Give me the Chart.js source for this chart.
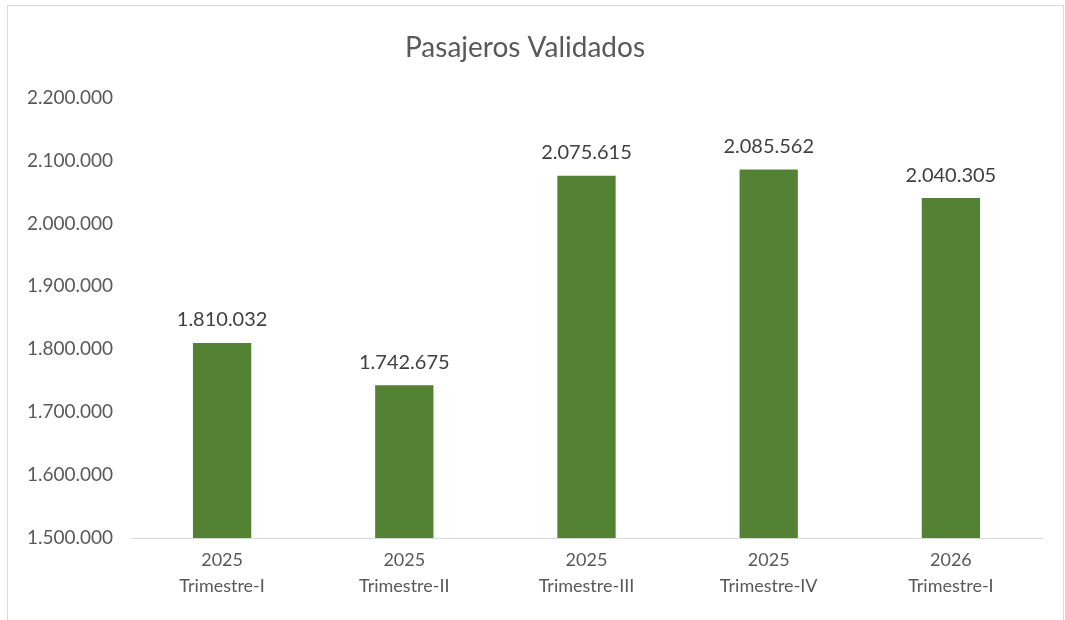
<!DOCTYPE html>
<html>
<head>
<meta charset="utf-8">
<script src="https://cdn.jsdelivr.net/npm/chart.js@4"></script>
<style>
  body { margin: 0; background: #fff; }
  #marco { position: absolute; left: 7px; top: 5px; width: 1055px; height: 614px; border: 1px solid #d9d9d9; }
</style>
</head>
<body>
<div id="marco"><canvas id="barChart" width="1055" height="614"></canvas></div>
<script>
const categorias = [['2025', 'Trimestre-I'], ['2025', 'Trimestre-II'], ['2025', 'Trimestre-III'], ['2025', 'Trimestre-IV'], ['2026', 'Trimestre-I']];
const pasajeros = [1810032, 1742675, 2075615, 2085562, 2040305];
const ejeMin = 1500000;
const ejeMax = 2200000;
const ejePaso = 100000;

function formato(v) {
  return String(Math.round(v)).replace(/\B(?=(\d{3})+(?!\d))/g, '.');
}

// etiquetas encima de cada barra
const etiquetas = {
  id: 'etiquetas',
  afterDatasetsDraw(chart) {
    const ctx = chart.ctx;
    const meta = chart.getDatasetMeta(0);
    ctx.save();
    ctx.font = '20px Lato';
    ctx.fillStyle = '#404040';
    ctx.textAlign = 'center';
    ctx.textBaseline = 'middle';
    meta.data.forEach((bar, i) => {
      ctx.fillText(formato(pasajeros[i]), bar.x, bar.y - 23);
    });
    ctx.restore();
  }
};

grafico_barras()

function grafico_barras(){
  let ctx = document.getElementById('barChart').getContext('2d');
  let barChart = new Chart(ctx, {
    type: 'bar',
    data: {
      labels: categorias,
      datasets: [{
        label: 'Pasajeros Validados',
        data: pasajeros,
        backgroundColor: '#548235',
        categoryPercentage: 1,
        barPercentage: 0.32
      }]
    },
    options: {
      responsive: false,
      animation: false,
      layout: { padding: { left: 0, right: 21, top: 0, bottom: 0 } },
      plugins: {
        legend: { display: false },
        tooltip: { enabled: false },
        title: {
          display: true,
          text: 'Pasajeros Validados',
          color: '#595959',
          font: { family: 'Lato', size: 28, weight: 'normal' },
          padding: { top: 25, bottom: 33 }
        }
      },
      scales: {
        x: {
          grid: { display: false, drawTicks: false },
          border: { color: '#d9d9d9', width: 1 },
          ticks: { color: '#595959', font: { family: 'Lato', size: 18, lineHeight: 1.4 }, padding: 10, maxRotation: 0 },
          afterFit(scale) { scale.height = 82; }
        },
        y: {
          min: ejeMin,
          max: ejeMax,
          grid: { display: false, drawTicks: false },
          border: { display: false },
          ticks: {
            stepSize: ejePaso,
            color: '#595959',
            font: { family: 'Lato', size: 19 },
            padding: 18,
            callback: (v) => formato(v)
          },
          afterFit(scale) { scale.width = 123; }
        }
      }
    },
    plugins: [etiquetas]
  });
}
</script>
</body>
</html>
